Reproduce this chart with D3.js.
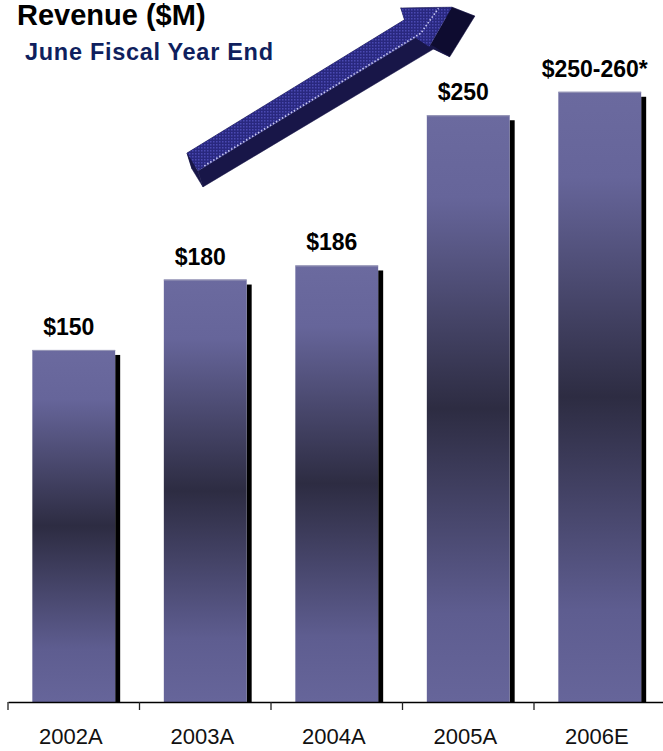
<!DOCTYPE html>
<html>
<head>
  <meta charset="utf-8">
  <title>Revenue ($M)</title>
  <script src="https://d3js.org/d3.v7.min.js"></script>
  <style>
    body { margin: 0; background: #fff; }
    svg { display: block; font-family: "Liberation Sans", Arial, sans-serif; }
  </style>
</head>
<body>
  <div id="chart"></div>

  <script>
    // data
    var categories = ['2002A', '2003A', '2004A', '2005A', '2006E'];
    var revenue = [150, 180, 186, 250, 260];
    var valueLabels = ['$150', '$180', '$186', '$250', '$250-260*'];

    var width = 663, height = 751;
    var baseY = 702;

    var svg = d3.select('#chart').append('svg')
      .attr('width', width)
      .attr('height', height);

    var defs = svg.append('defs');

    // bar shading: light at top and bottom, dark band in the middle
    var grad = defs.append('linearGradient')
      .attr('id', 'barGrad')
      .attr('x1', 0).attr('y1', 0).attr('x2', 0).attr('y2', 1);
    [[0, '#6b6a9f'], [0.14, '#66659a'], [0.5, '#2d2c42'], [0.85, '#5e5d90'], [1, '#66659a']]
      .forEach(function(s) {
        grad.append('stop').attr('offset', s[0]).attr('stop-color', s[1]);
      });

    // dithered fill for the arrow
    var pat = defs.append('pattern')
      .attr('id', 'dither')
      .attr('width', 3).attr('height', 3)
      .attr('patternUnits', 'userSpaceOnUse');
    pat.append('rect').attr('width', 3).attr('height', 3).attr('fill', '#29287f');
    pat.append('rect').attr('width', 1.5).attr('height', 1.5).attr('fill', '#4a49b2');

    var x = d3.scaleBand()
      .domain(categories)
      .range([8, 665.5]);

    var y = d3.scaleLinear()
      .domain([0, 260])
      .range([baseY, baseY - 260 * 2.347]);

    var barW = x.bandwidth() * 0.63;
    var data = categories.map(function(c, i) {
      return { cat: c, value: revenue[i], label: valueLabels[i] };
    });

    // titles
    svg.append('text')
      .attr('x', 17).attr('y', 25)
      .attr('font-size', 29).attr('font-weight', 'bold')
      .attr('fill', '#000')
      .text('Revenue ($M)');

    svg.append('text')
      .attr('x', 25).attr('y', 60)
      .attr('font-size', 23.5).attr('font-weight', 'bold')
      .attr('fill', '#0f1f5e')
      .attr('textLength', 248)
      .text('June Fiscal Year End');

    // growth arrow (decoration), drawn in a frame rotated along the arrow
    var ang = -31.5 * Math.PI / 180;
    var ux = Math.cos(ang), uy = Math.sin(ang);
    var nx = -uy, ny = ux;
    var ox = 187, oy = 153;
    function pt(s, t) { return [ox + s * ux + t * nx, oy + s * uy + t * ny]; }
    var face = [[0, 0], [255, 0], [258, -12], [302, 14], [262, 36], [255, 21], [0, 21]];
    var facePts = face.map(function(p) { return pt(p[0], p[1]); });
    function offset(p, s) {
      var k = s / 302;
      return [p[0] + 5 + 18 * k, p[1] + 16 - 7 * k];
    }
    var basePts = facePts.map(function(p, i) { return offset(p, face[i][0]); });

    var arrow = svg.append('g').attr('class', 'arrow');
    for (var i = 0; i < facePts.length; i++) {
      var j = (i + 1) % facePts.length;
      arrow.append('path')
        .attr('d', d3.line()([facePts[i], facePts[j], basePts[j], basePts[i]]) + 'Z')
        .attr('fill', i >= 2 && i <= 3 ? '#0e0c30' : '#181648')
        .attr('stroke', '#181648').attr('stroke-width', 0.5);
    }
    arrow.append('path')
      .attr('d', d3.line()(facePts) + 'Z')
      .attr('fill', 'url(#dither)');
    arrow.append('path')
      .attr('d', d3.line()([pt(8, 20), pt(262, 20), pt(290, 8)]))
      .attr('fill', 'none')
      .attr('stroke', '#c9c9f2')
      .attr('stroke-width', 1.6)
      .attr('stroke-dasharray', '1.5,2');

    // bars
    var bars = svg.selectAll('.bar')
      .data(data)
      .enter()
      .append('g')
      .attr('class', 'bar');

    bars.append('rect')
      .attr('x', function(d) { return x(d.cat) + (x.bandwidth() + barW) / 2; })
      .attr('y', function(d) { return y(d.value) + 5; })
      .attr('width', 5)
      .attr('height', function(d) { return baseY - y(d.value) - 5; })
      .attr('fill', '#000');

    bars.append('rect')
      .attr('x', function(d) { return x(d.cat) + (x.bandwidth() - barW) / 2; })
      .attr('y', function(d) { return y(d.value); })
      .attr('width', barW)
      .attr('height', function(d) { return baseY - y(d.value); })
      .attr('fill', 'url(#barGrad)');

    bars.append('line')
      .attr('x1', function(d) { return x(d.cat) + (x.bandwidth() - barW) / 2; })
      .attr('x2', function(d) { return x(d.cat) + (x.bandwidth() + barW) / 2; })
      .attr('y1', function(d) { return y(d.value) + 0.5; })
      .attr('y2', function(d) { return y(d.value) + 0.5; })
      .attr('stroke', '#9a9ab8')
      .attr('stroke-width', 1);

    bars.append('text')
      .attr('x', function(d) { return x(d.cat) + x.bandwidth() / 2 - 5; })
      .attr('y', function(d) { return y(d.value) - 15; })
      .attr('text-anchor', 'middle')
      .attr('font-size', 23)
      .attr('font-weight', 'bold')
      .attr('fill', '#000')
      .text(function(d) { return d.label; });

    // axis
    var axis = svg.append('g')
      .attr('transform', 'translate(0,' + baseY + ')')
      .call(d3.axisBottom(x).tickSize(0).tickSizeOuter(0).tickPadding(0));
    axis.select('.domain').attr('stroke', '#000').attr('stroke-width', 1.6);
    axis.selectAll('.tick text')
      .attr('x', -3)
      .attr('y', 42).attr('dy', 0)
      .attr('font-size', 22)
      .attr('font-family', '"Liberation Sans", Arial, sans-serif')
      .attr('fill', '#111');

    // separator ticks at band edges
    axis.selectAll('.sep')
      .data(categories)
      .enter()
      .append('line')
      .attr('class', 'sep')
      .attr('x1', function(d) { return x(d); })
      .attr('x2', function(d) { return x(d); })
      .attr('y1', 0).attr('y2', 8)
      .attr('stroke', '#222')
      .attr('stroke-width', 1.3);
  </script>
</body>
</html>
